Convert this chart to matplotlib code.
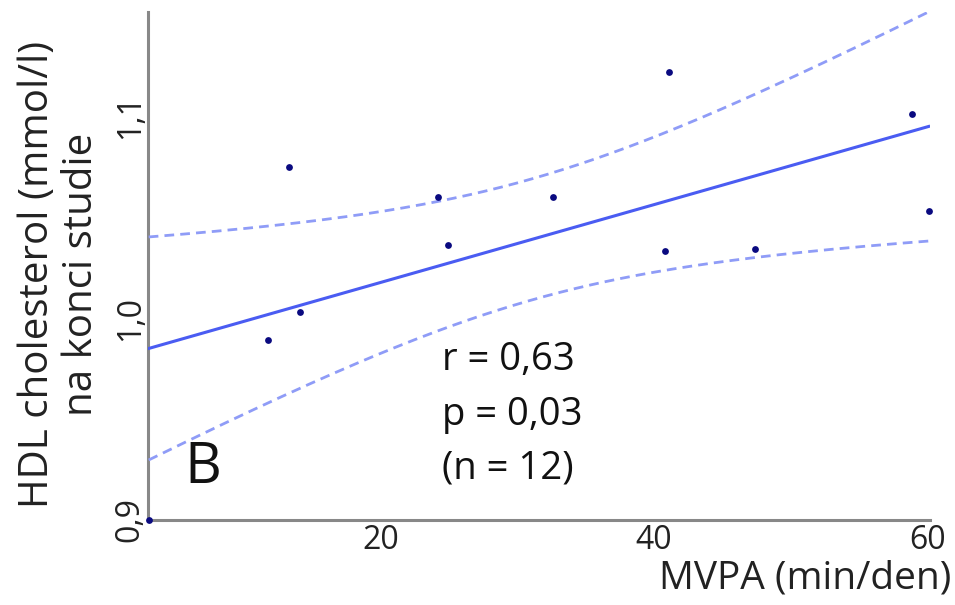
import numpy as np
import matplotlib
matplotlib.use("Agg")
import matplotlib.pyplot as plt

plt.rcParams['font.family'] = ['Open Sans', 'DejaVu Sans']

# Data
mvpa = [3.0, 11.7, 13.3, 14.1, 24.2, 24.9, 32.6, 41.1, 40.8, 47.4, 58.9, 60.1]
hdl = [0.900, 0.989, 1.075, 1.003, 1.060, 1.036, 1.060, 1.122, 1.033, 1.034, 1.101, 1.053]
x_ticks = [20, 40, 60]
x_tick_labels = ["20", "40", "60"]
y_ticks = [0.9, 1.0, 1.1]
y_tick_labels = ["0,9", "1,0", "1,1"]
stats_text = ["r = 0,63", "p = 0,03", "(n = 12)"]
T_975_DF10 = 2.228

x = np.array(mvpa)
y = np.array(hdl)
n = len(x)
xm, ym = x.mean(), y.mean()
sxx = ((x - xm) ** 2).sum()
slope = ((x - xm) * (y - ym)).sum() / sxx
icpt = ym - slope * xm
resid = y - (icpt + slope * x)
s = np.sqrt((resid ** 2).sum() / (n - 2))
xs = np.linspace(x.min(), x.max(), 200)
fit = icpt + slope * xs
half = T_975_DF10 * s * np.sqrt(1 / n + (xs - xm) ** 2 / sxx)

fig = plt.figure(figsize=(9.55, 6.05), dpi=100)
ax = fig.add_axes([148 / 955, 85 / 605, (930 - 148) / 955, (520 - 12) / 605])

ax.plot(xs, fit, color='#4a5cf2', lw=2.2, zorder=3)
ax.plot(xs, fit + half, color='#8f9cf7', lw=2.0, ls=(0, (3.5, 2.2)), zorder=3)
ax.plot(xs, fit - half, color='#8f9cf7', lw=2.0, ls=(0, (3.5, 2.2)), zorder=3)
ax.scatter(x, y, s=24, color='#0a0a80', zorder=5, clip_on=False, linewidths=0)

ax.set_xlim(2.95, 60.2)
ax.set_ylim(0.9, 1.1515)
ax.set_xticks(x_ticks)
ax.set_xticklabels(x_tick_labels, fontsize=23, color='#222222')
ax.set_yticks(y_ticks)
ax.set_yticklabels(y_tick_labels, fontsize=23, color='#222222', rotation=90, va='center')
ax.tick_params(axis='y', length=0, pad=1)
ax.tick_params(axis='x', length=0, pad=3)

for sp in ['top', 'right']:
    ax.spines[sp].set_visible(False)
for sp in ['left', 'bottom']:
    ax.spines[sp].set_color('#888888')
    ax.spines[sp].set_linewidth(2.2)

fig.text(951 / 955, 1 - 578 / 605, "MVPA (min/den)", fontsize=28, ha='right', va='center', color='#222222')
fig.text(60 / 955, 1 - 274 / 605, "HDL cholesterol (mmol/l)\nna konci studie", fontsize=29,
         rotation=90, ha='center', va='center', multialignment='center', color='#222222',
         linespacing=1.1)

for i, (t, b) in enumerate(zip(stats_text, [370, 425, 478])):
    fig.text(442 / 955, 1 - b / 605, t, fontsize=27.5, ha='left', va='baseline', color='#111111')
fig.text(184 / 955, 1 - 483 / 605, "B", fontsize=41, ha='left', va='baseline', color='#111111')

fig.savefig("out.png", dpi=100)
